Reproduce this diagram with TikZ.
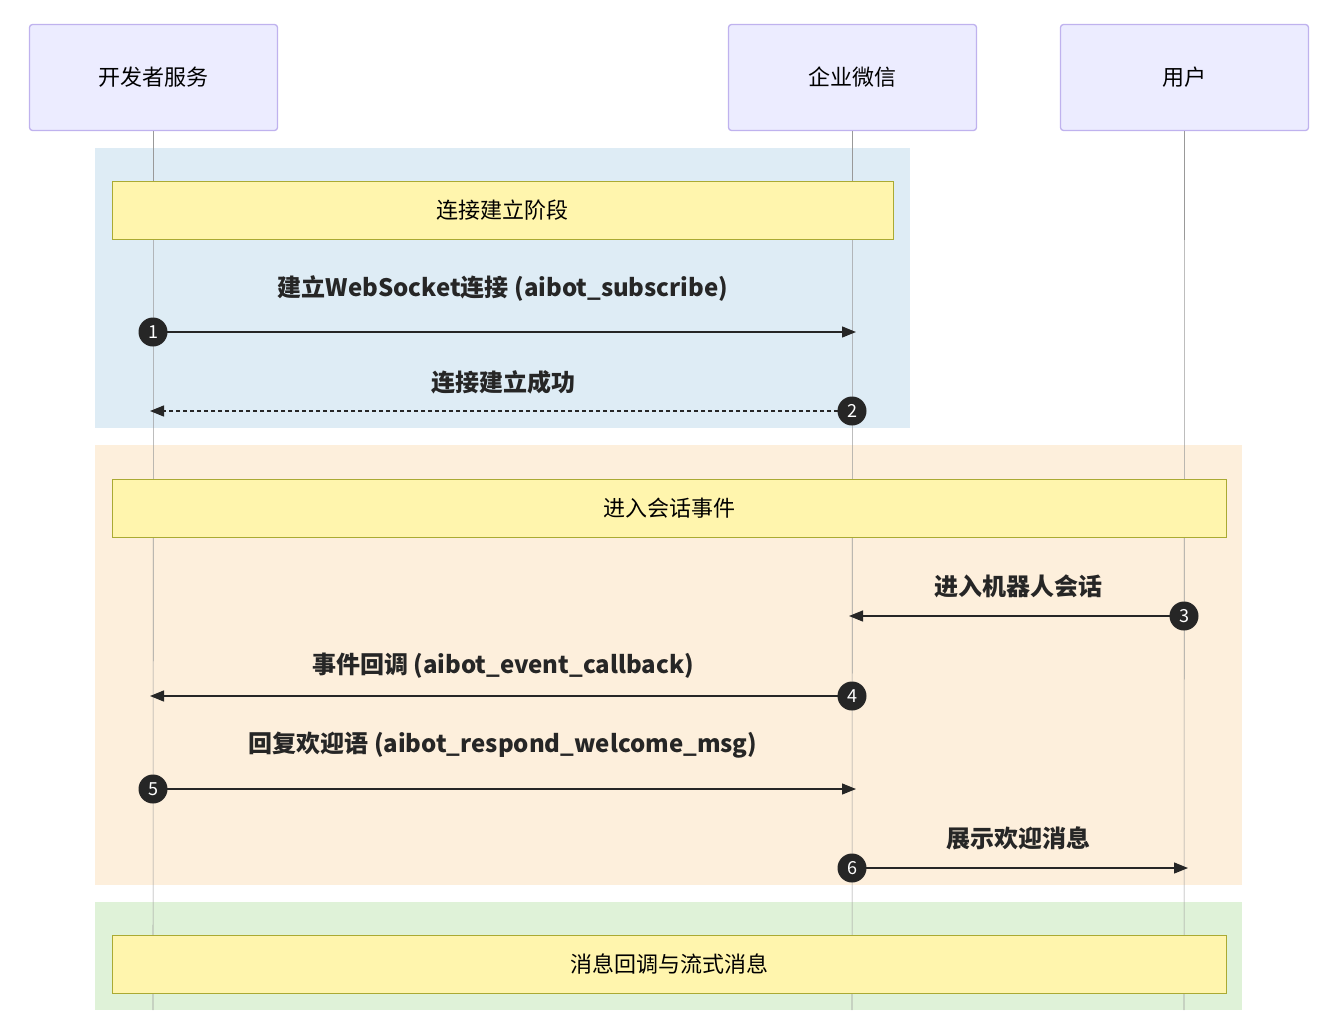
\documentclass[tikz,border=0pt]{standalone}
\usepackage{fontspec}
\setmainfont{Noto Sans CJK SC}
\usepackage{tikz}
\usetikzlibrary{arrows.meta,positioning,calc}
\definecolor{actfill}{HTML}{ECECFF}
\definecolor{actline}{HTML}{BFB2EE}
\definecolor{notefill}{HTML}{FFF5AD}
\definecolor{noteline}{HTML}{AAAA33}
\definecolor{bgblue}{HTML}{DEECF5}
\definecolor{bgorange}{HTML}{FDEFDC}
\definecolor{bggreen}{HTML}{DFF2D8}
\tikzset{
  actor/.style={draw=actline,line width=1.3pt,fill=actfill,rounded corners=3pt,minimum width=248pt,minimum height=106pt,font=\fontsize{22}{26}\selectfont},
  note/.style={draw=noteline,line width=1pt,fill=notefill,minimum height=58pt,font=\fontsize{22}{26}\selectfont},
  life/.style={draw=gray!80,line width=0.6pt},
  msg/.style={draw=black!85,line width=1.3pt,-{Triangle[length=14pt,width=11pt]}},
  lbl/.style={font=\bfseries\fontsize{24}{28}\selectfont,text=black!85},
  num/.style={circle,fill=black!85,text=white,inner sep=0pt,minimum size=29pt,font=\fontsize{18}{20}\selectfont}
}
\begin{document}
\begin{tikzpicture}[x=1pt,y=-1pt]
  \useasboundingbox (0,0) rectangle (1334,1010);
  % groups
  \fill[bgblue] (95,148) rectangle (910,428);
  \fill[bgorange] (95,445) rectangle (1242,885);
  \fill[bggreen] (95,902) rectangle (1242,1010);
  % actors
  \node[actor] (dev) at (153.5,77.5) {开发者服务};
  \node[actor] (wx) at (852.5,77.5) {企业微信};
  \node[actor] (usr) at (1184.5,77.5) {用户};
  \coordinate (devEnd) at (153,1010);
  \coordinate (wxEnd) at (852,1010);
  \coordinate (usrEnd) at (1184,1010);
  \draw[life] (dev.south) -- (devEnd);
  \draw[life] (wx.south) -- (wxEnd);
  \draw[life] (usr.south) -- (usrEnd);
  % notes
  \node[note,minimum width=781pt] (n1) at (502.5,210) {连接建立阶段};
  \node[note,minimum width=1114pt] (n2) at (669,508) {进入会话事件};
  \node[note,minimum width=1114pt] (n3) at (669,964) {消息回调与流式消息};
  % messages
  \foreach \nm/\x/\y in {a1/153/332,b1/856/332,a2/852/411,b2/150/411,a3/1184/616,b3/849/616,
                         a4/852/696,b4/150/696,a5/153/789,b5/856/789,a6/852/868,b6/1188/868}
    \coordinate (\nm) at (\x,\y);
  \draw[msg] (a1) -- (b1);
  \draw[msg,dashed,dash pattern=on 4pt off 3pt] (a2) -- (b2);
  \draw[msg] (a3) -- (b3);
  \draw[msg] (a4) -- (b4);
  \draw[msg] (a5) -- (b5);
  \draw[msg] (a6) -- (b6);
  \foreach \i in {1,...,6}
    \node[num] (c\i) at (a\i) {\i};
  \node[lbl] (l1) at (503,289) {建立WebSocket连接 (aibot\_subscribe)};
  \node[lbl] (l2) at (503,382) {连接建立成功};
  \node[lbl] (l3) at (1018,586) {进入机器人会话};
  \node[lbl] (l4) at (503,666) {事件回调 (aibot\_event\_callback)};
  \node[lbl] (l5) at (503,745) {回复欢迎语 (aibot\_respond\_welcome\_msg)};
  \node[lbl] (l6) at (1018,838) {展示欢迎消息};
\end{tikzpicture}
\end{document}
